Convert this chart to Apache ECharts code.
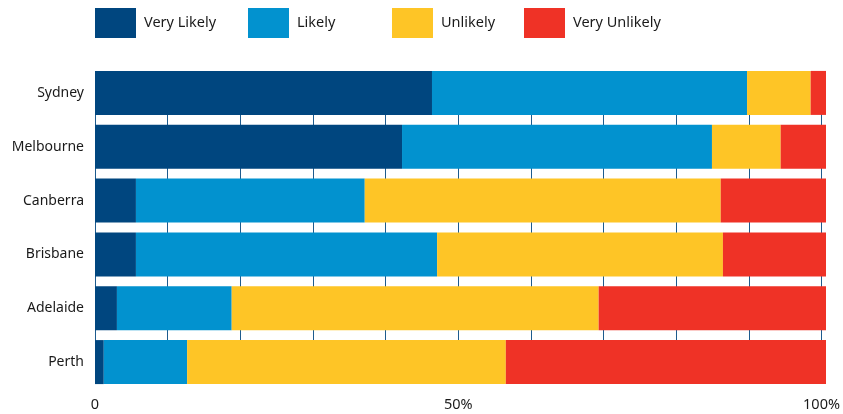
<!DOCTYPE html>
<html>
<head>
<meta charset="utf-8">
<script src="https://cdn.jsdelivr.net/npm/echarts@6/dist/echarts.min.js"></script>
<style>
html,body{margin:0;padding:0;background:#fff;}
#chart{width:843px;height:414px;}
</style>
</head>
<body>
<div id="chart"></div>
<script>
const cities = ['Sydney', 'Melbourne', 'Canberra', 'Brisbane', 'Adelaide', 'Perth'];
const seriesNames = ['Very Likely', 'Likely', 'Unlikely', 'Very Unlikely'];
const veryLikely = [46.1, 42.0, 5.6, 5.6, 3.0, 1.2];
const likely = [43.1, 42.4, 31.3, 41.2, 15.7, 11.4];
const unlikely = [8.7, 9.4, 48.7, 39.1, 50.2, 43.6];
const veryUnlikely = [2.1, 6.2, 14.4, 14.1, 31.1, 43.8];
const tickLabels = {0: '0', 50: '50%', 100: '100%'};

const colors = ['#00467f', '#0292cf', '#fec526', '#ef3226'];
const values = [veryLikely, likely, unlikely, veryUnlikely];
const legendLeft = [95, 248, 392, 524];
const font = 'Noto Sans';

const chart = echarts.init(document.getElementById('chart'));
chart.setOption({
  animation: false,
  textStyle: {fontFamily: font},
  legend: seriesNames.map((n, i) => ({
    data: [n],
    left: legendLeft[i],
    top: 8,
    padding: 0,
    itemWidth: 41,
    itemHeight: 30,
    icon: 'rect',
    selectedMode: false,
    textStyle: {fontFamily: font, fontSize: 14.5, color: '#1a1a1a', padding: [3, 0, 0, 3]}
  })),
  grid: [
    {left: 95, right: 17, top: 66, height: 323},
    {left: 95, right: 17, top: 71, height: 313}
  ],
  xAxis: [
    {gridIndex: 0, type: 'value', min: 0, max: 100, show: false, splitLine: {show: false}},
    {gridIndex: 1, type: 'value', min: 0, max: 100, interval: 10,
      axisLine: {show: false}, axisTick: {show: false},
      splitLine: {show: true, lineStyle: {color: '#1d5b8e', width: 1}},
      axisLabel: {margin: 13, fontFamily: font, fontSize: 14.5, color: '#1a1a1a',
        formatter: v => tickLabels[v] !== undefined ? tickLabels[v] : ''}}
  ],
  yAxis: [
    {gridIndex: 0, type: 'category', data: cities, inverse: true,
      axisLine: {show: false}, axisTick: {show: false}, splitLine: {show: false},
      axisLabel: {margin: 11, fontFamily: font, fontSize: 14, color: '#1a1a1a', padding: [3, 0, 0, 0]}},
    {gridIndex: 1, type: 'category', data: cities, inverse: true, show: false}
  ],
  series: seriesNames.map((n, i) => ({
    name: n,
    type: 'bar',
    stack: 'total',
    xAxisIndex: 0,
    yAxisIndex: 0,
    barWidth: 44,
    itemStyle: {color: colors[i]},
    data: values[i]
  }))
});
</script>
</body>
</html>
